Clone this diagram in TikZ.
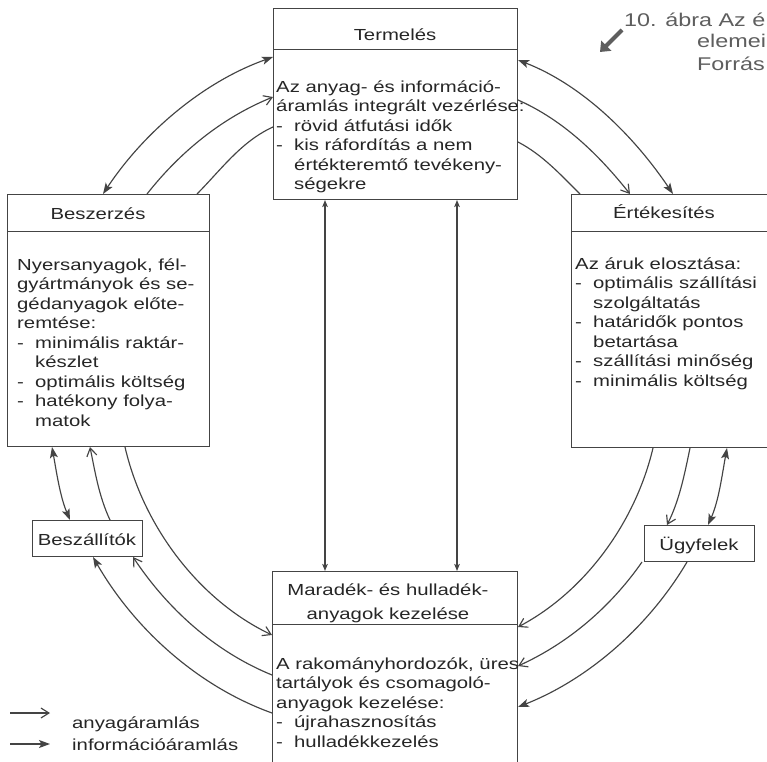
\documentclass[tikz,border=0pt]{standalone}
\usepackage{fontspec}
\setmainfont[FakeStretch=1.27]{Liberation Sans}
\usetikzlibrary{arrows.meta}
\definecolor{ink}{HTML}{262626}
\definecolor{wire}{HTML}{444444}
\definecolor{capt}{HTML}{5E5E5E}
% list item prefix and hanging indent for continuation lines
\newcommand\itm{\makebox[18pt][l]{-}}
\newcommand\hng{\hspace*{18pt}}
\newcommand\fst{\rule{0pt}{15pt}}
\tikzset{
  infotip/.tip={Stealth[length=11pt,width=8pt,inset=2.5pt]},
  mattip/.tip={Straight Barb[length=8pt,width=10pt]},
  smalltip/.tip={Stealth[length=7pt,width=5.5pt,inset=1.5pt]},
}
\begin{document}
\begin{tikzpicture}[x=1pt,y=1pt,
  box/.style={draw=wire,line width=1pt,inner sep=0pt,anchor=south west},
  txt/.style={inner sep=0pt,text=ink,font=\fontsize{16}{19.5}\selectfont},
  body/.style={txt,align=left,anchor=north west},
  head/.style={txt,anchor=base},
  capline/.style={inner sep=0pt,text=capt,font=\fontsize{18.4}{22}\selectfont,anchor=base west},
  flow/.style={draw=wire,line width=1.15pt,looseness=0.87},
  sep/.style={draw=wire,line width=1pt},
]
\fill[white] (0,0) rectangle (767,761);
\useasboundingbox (0,0) rectangle (767,761);
\clip (0,0) rectangle (767,761);

% ---------- boxes ----------
\node[box,minimum width=244,minimum height=191] (term) at (273,561) {};
\node[box,minimum width=202,minimum height=252] (besz) at (7,314) {};
\node[box,minimum width=210,minimum height=253] (ert) at (571,313) {};
\node[box,minimum width=245,minimum height=219] (mar) at (272,-30) {};
\node[box,minimum width=110,minimum height=36] (beszall) at (32,204) {};
\node[box,minimum width=110,minimum height=36] (ugy) at (644,199) {};

% header separators
\draw[sep] (term.west |- 0,711) -- (term.east |- 0,711);
\draw[sep] (besz.west |- 0,529) -- (besz.east |- 0,529);
\draw[sep] (ert.west |- 0,529) -- (ert.east |- 0,529);
\draw[sep] (mar.west |- 0,137) -- (mar.east |- 0,137);

% ---------- titles ----------
\node[head] (termT) at (395,720) {Termelés};
\node[head] (beszT) at (98,541) {Beszerzés};
\node[head] (ertT) at (664,542) {Értékesítés};
\node[txt,align=center,anchor=north] (marT) at (388,181)
  {\fst Maradék- és hulladék-\\[4.5pt]anyagok kezelése};
\node[head] (beszallT) at (87,216) {Beszállítók};
\node[head] (ugyT) at (699,211) {Ügyfelek};

% ---------- body texts ----------
\node[body] (termB) at (276,684) {\fst Az anyag- és információ-\\
áramlás integrált vezérlése:\\
\itm rövid átfutási idők\\
\itm kis ráfordítás a nem\\
\hng értékteremtő tevékeny-\\
\hng ségekre};

\node[body] (beszB) at (17,506) {\fst Nyersanyagok, fél-\\
gyártmányok és se-\\
gédanyagok előte-\\
remtése:\\
\itm minimális raktár-\\
\hng készlet\\
\itm optimális költség\\
\itm hatékony folya-\\
\hng matok};

\node[body] (ertB) at (575,507) {\fst Az áruk elosztása:\\
\itm optimális szállítási\\
\hng szolgáltatás\\
\itm határidők pontos\\
\hng betartása\\
\itm szállítási minőség\\
\itm minimális költség};

\node[body] (marB) at (276,107) {\fst A rakományhordozók, üres\\
tartályok és csomagoló-\\
anyagok kezelése:\\
\itm újrahasznosítás\\
\itm hulladékkezelés};

% ---------- flows: Beszerzés -- Termelés ----------
\draw[flow,infotip-infotip] (besz.north -| 103,0) to[out=56.4,in=199.6] (term.west |- 0,704);
\draw[flow,-mattip] (besz.north -| 147,0) to[out=51.8,in=202] (term.west |- 0,664);
\draw[flow] (besz.north -| 197,0) to[out=45.3,in=204.3] (term.west |- 0,634);

% ---------- flows: Termelés -- Értékesítés ----------
\draw[flow,infotip-infotip] (term.east |- 0,701) to[out=-21.3,in=124] (ert.north -| 673,0);
\draw[flow,-mattip] (term.east |- 0,661) to[out=-23.9,in=128.5] (ert.north -| 630,0);
\draw[flow] (term.east |- 0,619) to[out=-27.5,in=135.2] (ert.north -| 580,0);

% ---------- flows: Termelés -- Maradék ----------
\draw[flow,smalltip-smalltip] (term.south -| 325,0) -- (mar.north -| 325,0);
\draw[flow,smalltip-smalltip] (term.south -| 457,0) -- (mar.north -| 457,0);

% ---------- flows: Beszerzés -- Beszállítók -- Maradék ----------
\draw[flow,infotip-infotip] (besz.south -| 52,0) to[out=-79.8,in=112.9] (beszall.north -| 70,0);
\draw[flow,-mattip] (beszall.north -| 110,0) to[out=115.2,in=-78.5] (besz.south -| 90,0);
\draw[flow,-mattip] (besz.south -| 125,0) to[out=-77,in=154.6] (mar.west |- 0,126);
\draw[flow,-mattip] (mar.west |- 0,86) to[out=157.8,in=-56.4] (beszall.south -| 133,0);
\draw[flow,-infotip] (mar.west |- 0,48) to[out=160.2,in=-60.1] (beszall.south -| 93,0);

% ---------- flows: Értékesítés -- Ügyfelek -- Maradék ----------
\draw[flow,infotip-infotip] (ert.south -| 727,0) to[out=-100.4,in=66.2] (ugy.north -| 708,0);
\draw[flow,-mattip] (ert.south -| 690,0) to[out=-101.7,in=63.2] (ugy.north -| 667,0);
\draw[flow,-mattip] (ert.south -| 653,0) to[out=-103.3,in=27.8] (mar.east |- 0,134);
\draw[flow,-mattip] (ugy.south -| 642,0) to[out=-124.9,in=24.4] (mar.east |- 0,95);
\draw[flow,-infotip] (ugy.south -| 687,0) to[out=-120.6,in=21.6] (mar.east |- 0,54);

% ---------- legend ----------
\coordinate (lm0) at (10,48);
\coordinate (lm1) at (50,48);
\coordinate (li0) at (10,17);
\coordinate (li1) at (50,17);
\draw[flow,-mattip] (lm0) -- (lm1);
\draw[flow,-infotip] (li0) -- (li1);
\node[head,anchor=base west] (lmT) at (72,33) {anyagáramlás};
\node[head,anchor=base west] (liT) at (72,11) {információáramlás};

% ---------- caption in the corner ----------
\node[capline] (cap1) at (624,734) {10. ábra Az é};
\node[capline] (cap2) at (697,713) {elemei};
\node[capline] (cap3) at (697,690) {Forrás};
\coordinate (ca0) at (622,731);
\coordinate (ca1) at (600,709);
\draw[capt,line width=4pt,-{Triangle[length=9pt,width=14pt]}] (ca0) -- (ca1);
\end{tikzpicture}
\end{document}
